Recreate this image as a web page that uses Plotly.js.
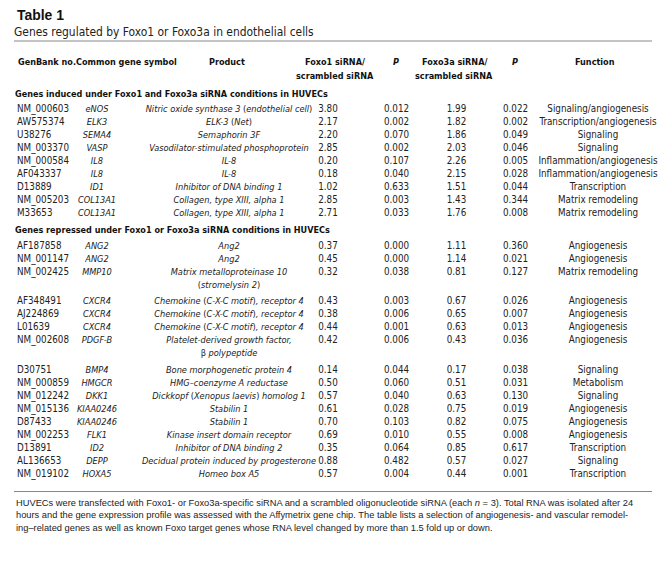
<!DOCTYPE html>
<html>
<head>
<meta charset="utf-8">
<script src="https://cdn.plot.ly/plotly-3.0.1.min.js"></script>
<style>html,body{margin:0;padding:0;background:#fff;}#chart{width:667px;height:571px;}</style>
</head>
<body>
<div id="chart"></div>
<script>
// ---------------- DATA ----------------
const tableTitle = "Table 1";
const tableSubtitle = "Genes regulated by Foxo1 or Foxo3a in endothelial cells";
const columnHeaders = ["GenBank no.Common gene symbol", "Product", "Foxo1 siRNA/|scrambled siRNA", "<i>P</i>", "Foxo3a siRNA/|scrambled siRNA", "<i>P</i>", "Function"];
const sectionTitles = [
  "Genes induced under Foxo1 and Foxo3a siRNA conditions in HUVECs",
  "Genes repressed under Foxo1 or Foxo3a siRNA conditions in HUVECs"
];
const rowSection = [0,0,0,0,0,0,0,0,0, 1,1,1,1,1,1,1,1,1,1,1,1,1,1,1,1];
const genbank = ["NM_000603","AW575374","U38276","NM_003370","NM_000584","AF043337","D13889","NM_005203","M33653",
  "AF187858","NM_001147","NM_002425","AF348491","AJ224869","L01639","NM_002608","D30751","NM_000859","NM_012242",
  "NM_015136","D87433","NM_002253","D13891","AL136653","NM_019102"];
const geneSymbols = ["eNOS","ELK3","SEMA4","VASP","IL8","IL8","ID1","COL13A1","COL13A1",
  "ANG2","ANG2","MMP10","CXCR4","CXCR4","CXCR4","PDGF-B","BMP4","HMGCR","DKK1",
  "KIAA0246","KIAA0246","FLK1","ID2","DEPP","HOXA5"];
const products = ["Nitric oxide synthase 3 (endothelial cell)","ELK-3 (Net)","Semaphorin 3F","Vasodilator-stimulated phosphoprotein",
  "IL-8","IL-8","Inhibitor of DNA binding 1","Collagen, type XIII, alpha 1","Collagen, type XIII, alpha 1",
  "Ang2","Ang2","Matrix metalloproteinase 10|(stromelysin 2)","Chemokine (C-X-C motif), receptor 4",
  "Chemokine (C-X-C motif), receptor 4","Chemokine (C-X-C motif), receptor 4","Platelet-derived growth factor,|β polypeptide",
  "Bone morphogenetic protein 4","HMG–coenzyme A reductase","Dickkopf (Xenopus laevis) homolog 1",
  "Stabilin 1","Stabilin 1","Kinase insert domain receptor","Inhibitor of DNA binding 2",
  "Decidual protein induced by progesterone","Homeo box A5"];
const foxo1Ratio = [3.80,2.17,2.20,2.85,0.20,0.18,1.02,2.85,2.71, 0.37,0.45,0.32,0.43,0.38,0.44,0.42,0.14,0.50,0.57,0.61,0.70,0.69,0.35,0.88,0.57];
const foxo1P = [0.012,0.002,0.070,0.002,0.107,0.040,0.633,0.003,0.033, 0.000,0.000,0.038,0.003,0.006,0.001,0.006,0.044,0.060,0.040,0.028,0.103,0.010,0.064,0.482,0.004];
const foxo3aRatio = [1.99,1.82,1.86,2.03,2.26,2.15,1.51,1.43,1.76, 1.11,1.14,0.81,0.67,0.65,0.63,0.43,0.17,0.51,0.63,0.75,0.82,0.55,0.85,0.57,0.44];
const foxo3aP = [0.022,0.002,0.049,0.046,0.005,0.028,0.044,0.344,0.008, 0.360,0.021,0.127,0.026,0.007,0.013,0.036,0.038,0.031,0.130,0.019,0.075,0.008,0.617,0.027,0.001];
const functions = ["Signaling/angiogenesis","Transcription/angiogenesis","Signaling","Signaling","Inflammation/angiogenesis",
  "Inflammation/angiogenesis","Transcription","Matrix remodeling","Matrix remodeling",
  "Angiogenesis","Angiogenesis","Matrix remodeling","Angiogenesis","Angiogenesis","Angiogenesis","Angiogenesis",
  "Signaling","Metabolism","Signaling","Angiogenesis","Angiogenesis","Angiogenesis","Transcription","Signaling","Transcription"];
const footnoteLines = [
  "HUVECs were transfected with Foxo1- or Foxo3a-specific siRNA and a scrambled oligonucleotide siRNA (each <i>n</i> = 3). Total RNA was isolated after 24",
  "hours and the gene expression profile was assessed with the Affymetrix gene chip. The table lists a selection of angiogenesis- and vascular remodel-",
  "ing–related genes as well as known Foxo target genes whose RNA level changed by more than 1.5 fold up or down."
];

// ---------------- FONT SELECTION / FITTING (styles only) ----------------
const ctx = document.createElement("canvas").getContext("2d");
function hasFont(fam) {
  const s = "mmmmmmmmmmlli1WQ@#abcxyz";
  for (const g of ["monospace", "serif"]) {
    ctx.font = "72px " + g; const a = ctx.measureText(s).width;
    ctx.font = '72px "' + fam + '", ' + g; const b = ctx.measureText(s).width;
    if (Math.abs(a - b) > 0.5) return true;
  }
  return false;
}
const condensedCandidates = ["Liberation Sans Narrow", "DejaVu Sans Condensed", "Roboto", "Liberation Sans"];
const available = condensedCandidates.filter(hasFont);
const NARROW = '"' + (available[0] || "Liberation Sans") + '", sans-serif';
const SANS = '"' + (hasFont("Liberation Sans") ? "Liberation Sans" : "Arial") + '", Arial, sans-serif';
function fitSize(text, fam, target, weight, style, lo, hi) {
  ctx.font = (style || "normal") + " " + (weight || "normal") + " 100px " + fam;
  const w = ctx.measureText(text).width;
  return Math.max(lo, Math.min(hi, target / w * 100));
}
// fitted to the reference widths, then enlarged slightly so glyph heights come closer
const bodySize = 1.06 * (fitSize("Transcription/angiogenesis", NARROW, 114, "normal", "normal", 8, 12.5) +
                  fitSize("0.012", NARROW, 23, "normal", "normal", 8, 12.5)) / 2;
const italSize = 1.0 * fitSize("Vasodilator-stimulated phosphoprotein", NARROW, 160, "normal", "italic", 8, 12.5);
const boldSize = 1.05 * fitSize(sectionTitles[0], NARROW, 298, "bold", "normal", 8, 12.5);
const subSize = fitSize(tableSubtitle, NARROW, 300, "normal", "normal", 9, 14);
const footSize = fitSize(footnoteLines[0].replace(/<\/?i>/g, ""), SANS, 619, "normal", "normal", 7, 11);
const titleSize = fitSize(tableTitle, SANS, 47, "bold", "normal", 10, 16);

const BODY = {family: NARROW, size: bodySize, color: "#222"};
const ITAL = {family: NARROW, size: italSize, color: "#222"};
const BOLD = {family: NARROW, size: boldSize, color: "#111", weight: "bold"};

// ---------------- LAYOUT PARAMETERS ----------------
const W = 667, H = 571;
const colX = {gb: 17, sym: 97, prod: 229, r1: 328, p1: 396.5, r3: 456.5, p3: 515.5, fn: 598};
const hdrX = [16, 227, 335, 396, 454, 515, 595];
const hdrY = [62, 76];
const rowStep = 13.0, secToRow = 15.5, rowToSec = 17, extraGap = 3.5;
const firstSecY = 94.5;
const ruleX0 = 14, ruleX1 = 652, ruleTop = 41;

// ---------------- BUILD POSITIONS ----------------
function italicProduct(s) {
  return "<i>" + s.replace(/\(/g, "</i>(<i>").replace(/\)/g, "</i>)<i>") + "</i>";
}
const rowY = [], secY = [];
const prodLines = {x: [], y: [], t: []};
let y = firstSecY, prevSec = -1;
for (let i = 0; i < genbank.length; i++) {
  if (rowSection[i] !== prevSec) {
    if (prevSec >= 0) y += rowToSec;
    secY.push(y);
    y += secToRow;
    prevSec = rowSection[i];
  } else {
    y += rowStep;
  }
  rowY.push(y);
  const parts = products[i].split("|");
  parts.forEach((p, k) => {
    let t = italicProduct(p);
    if (p.startsWith("β ")) t = "β " + italicProduct(p.slice(2));
    prodLines.x.push(colX.prod); prodLines.y.push(y + k * rowStep); prodLines.t.push(t);
  });
  if (parts.length > 1) y += (parts.length - 1) * rowStep + extraGap;
}
const lastY = rowY[rowY.length - 1];
const ruleBottom = lastY + 17;
const footY0 = ruleBottom + 11.5, footStep = 12.3;

const n = genbank.length;
const rep = v => new Array(n).fill(v);
function textTrace(xs, ys, texts, font, pos) {
  return {type: "scatter", mode: "text", x: xs, y: ys, text: texts, textposition: pos || "middle center",
    textfont: font, marker: {size: 0}, hoverinfo: "skip", showlegend: false, cliponaxis: false};
}
const traces = [
  textTrace(rep(colX.gb), rowY, genbank, BODY, "middle right"),
  textTrace(rep(colX.sym), rowY, geneSymbols.map(s => "<i>" + s + "</i>"), ITAL),
  textTrace(prodLines.x, prodLines.y, prodLines.t, ITAL),
  textTrace(rep(colX.r1), rowY, foxo1Ratio.map(v => v.toFixed(2)), BODY),
  textTrace(rep(colX.p1), rowY, foxo1P.map(v => v.toFixed(3)), BODY),
  textTrace(rep(colX.r3), rowY, foxo3aRatio.map(v => v.toFixed(2)), BODY),
  textTrace(rep(colX.p3), rowY, foxo3aP.map(v => v.toFixed(3)), BODY),
  textTrace(rep(colX.fn), rowY, functions, BODY),
  textTrace(secY.map(() => 15), secY, sectionTitles, BOLD, "middle right")
];

const annotations = [];
annotations.push({x: 15, y: 15, xref: "x", yref: "y", text: "<b>" + tableTitle + "</b>", showarrow: false,
  xanchor: "left", yanchor: "middle", font: {family: SANS, size: titleSize, color: "#111"}});
annotations.push({x: 12, y: 32, xref: "x", yref: "y", text: tableSubtitle, showarrow: false,
  xanchor: "left", yanchor: "middle", font: {family: NARROW, size: subSize, color: "#222"}});
columnHeaders.forEach((h, k) => {
  h.split("|").forEach((line, j) => {
    annotations.push({x: hdrX[k], y: hdrY[j], xref: "x", yref: "y", text: "<b>" + line + "</b>", showarrow: false,
      xanchor: k === 0 ? "left" : "center", yanchor: "middle",
      font: {family: NARROW, size: boldSize, color: "#111"}});
  });
});
footnoteLines.forEach((t, k) => {
  annotations.push({x: 14, y: footY0 + k * footStep, xref: "x", yref: "y", text: t, showarrow: false,
    xanchor: "left", yanchor: "middle", font: {family: SANS, size: footSize, color: "#222"}});
});

const shapes = [
  {type: "line", xref: "x", yref: "y", x0: ruleX0, x1: ruleX1, y0: ruleTop, y1: ruleTop, line: {color: "#888", width: 1}},
  {type: "line", xref: "x", yref: "y", x0: ruleX0, x1: ruleX1, y0: ruleBottom, y1: ruleBottom, line: {color: "#888", width: 1}}
];

const layout = {
  width: W, height: H, margin: {l: 0, r: 0, t: 0, b: 0},
  paper_bgcolor: "#fff", plot_bgcolor: "#fff",
  xaxis: {range: [0, W], visible: false, fixedrange: true},
  yaxis: {range: [H, 0], visible: false, fixedrange: true},
  annotations: annotations, shapes: shapes, showlegend: false
};
Plotly.newPlot("chart", traces, layout, {staticPlot: true, displayModeBar: false});
</script>
</body>
</html>
